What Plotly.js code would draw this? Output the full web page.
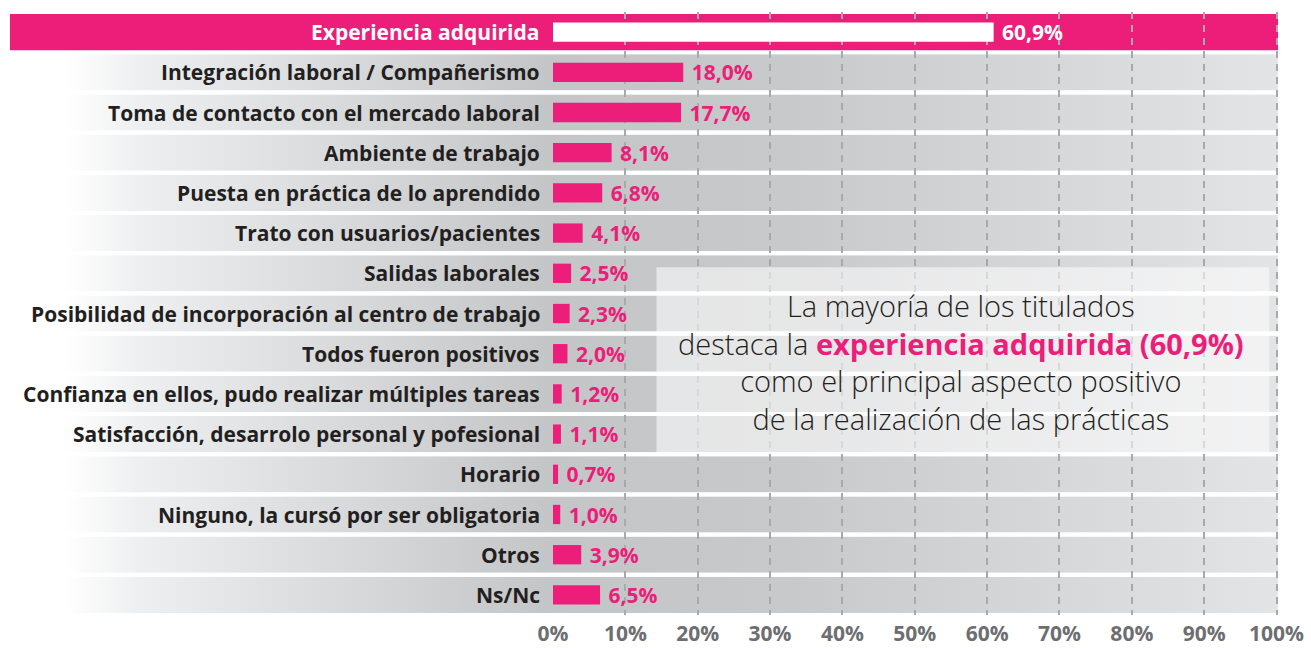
<!DOCTYPE html>
<html>
<head>
<meta charset="utf-8">
<script src="https://cdn.plot.ly/plotly-3.0.1.min.js"></script>
<style>html,body{margin:0;padding:0;background:#fff;}#chart{width:1311px;height:648px;}</style>
</head>
<body>
<div id="chart"></div>
<script>
const categories = [
  "Experiencia adquirida",
  "Integración laboral / Compañerismo",
  "Toma de contacto con el mercado laboral",
  "Ambiente de trabajo",
  "Puesta en práctica de lo aprendido",
  "Trato con usuarios/pacientes",
  "Salidas laborales",
  "Posibilidad de incorporación al centro de trabajo",
  "Todos fueron positivos",
  "Confianza en ellos, pudo realizar múltiples tareas",
  "Satisfacción, desarrolo personal y pofesional",
  "Horario",
  "Ninguno, la cursó por ser obligatoria",
  "Otros",
  "Ns/Nc"
];
const values = [60.9, 18.0, 17.7, 8.1, 6.8, 4.1, 2.5, 2.3, 2.0, 1.2, 1.1, 0.7, 1.0, 3.9, 6.5];
const tickValues = [0, 10, 20, 30, 40, 50, 60, 70, 80, 90, 100];
const tickLabels = ["0%", "10%", "20%", "30%", "40%", "50%", "60%", "70%", "80%", "90%", "100%"];
const highlightIndex = 0;
const noteLines = [
  "La mayoría de los titulados",
  "destaca la <b><span style='color:#ec1e79'>experiencia adquirida (60,9%)</span></b>",
  "como el principal aspecto positivo",
  "de la realización de las prácticas"
];

const PINK = "#ec1e79";
const DARK = "#231f20";
const FONT = "'Open Sans', sans-serif";
const idx = categories.map((c, i) => i);

const gradSvg = "<svg xmlns='http://www.w3.org/2000/svg' width='1000' height='10' viewBox='0 0 1000 10' preserveAspectRatio='none'>" +
  "<defs><linearGradient id='g' x1='0' y1='0' x2='1' y2='0'>" +
  "<stop offset='0' stop-color='#ffffff'/>" +
  "<stop offset='0.06' stop-color='#eeeff0'/>" +
  "<stop offset='0.2' stop-color='#dcdddf'/>" +
  "<stop offset='0.4' stop-color='#c4c5c7'/>" +
  "<stop offset='0.6' stop-color='#c8c9cb'/>" +
  "<stop offset='1' stop-color='#e3e4e6'/>" +
  "</linearGradient></defs><rect x='0' y='0' width='1000' height='10' fill='url(#g)'/></svg>";
const gradUri = "data:image/svg+xml;charset=utf-8," + encodeURIComponent(gradSvg);

const images = [];
const shapes = [];
idx.forEach(i => {
  if (i === highlightIndex) {
    shapes.push({type: "rect", layer: "below", xref: "paper", yref: "y",
      x0: -0.749, x1: 1.0, y0: i - 0.45, y1: i + 0.45,
      fillcolor: PINK, line: {width: 0}});
  } else {
    images.push({source: gradUri, xref: "paper", yref: "y",
      x: -0.673, y: i, sizex: 1.673, sizey: 0.9,
      xanchor: "left", yanchor: "middle", sizing: "stretch", layer: "below"});
  }
});
shapes.push({type: "rect", layer: "above", xref: "x", yref: "y",
  x0: 14.3, x1: 99.0, y0: 5.85, y1: 10.45,
  fillcolor: "rgba(255,255,255,0.55)", line: {width: 0}});

const annotations = categories.map((c, i) => ({
  x: 0, y: i, xref: "x", yref: "y", text: c, showarrow: false,
  xanchor: "right", yanchor: "middle", xshift: -11,
  font: {family: FONT, size: 21, weight: 700, color: i === highlightIndex ? "#ffffff" : DARK}
}));
annotations.push({
  x: 56.4, y: 8.2, xref: "x", yref: "y", text: noteLines.join("<br>"), showarrow: false,
  xanchor: "center", yanchor: "middle", align: "center",
  font: {family: FONT, size: 29, weight: 300, color: DARK}
});

const trace = {
  type: "bar", orientation: "h",
  x: values, y: idx,
  width: 0.48,
  marker: {color: idx.map(i => i === highlightIndex ? "#ffffff" : PINK), line: {width: 0}},
  text: values.map(v => "\u00a0" + v.toFixed(1).replace(".", ",") + "%"),
  textposition: "outside",
  constraintext: "none",
  cliponaxis: false,
  textfont: {family: FONT, size: 21, weight: 700, color: idx.map(i => i === highlightIndex ? "#ffffff" : PINK)},
  hoverinfo: "skip"
};

const layout = {
  width: 1311, height: 648,
  margin: {l: 553, r: 33, t: 12, b: 33},
  paper_bgcolor: "#ffffff", plot_bgcolor: "rgba(0,0,0,0)",
  showlegend: false,
  separators: ",.",
  xaxis: {
    range: [0, 100.2], tickvals: tickValues, ticktext: tickLabels,
    showgrid: true, gridcolor: "#a7a9ac", gridwidth: 2, griddash: "7px,6px",
    zeroline: false, showline: false, ticks: "",
    ticklabelstandoff: 4,
    tickfont: {family: FONT, size: 21, weight: 700, color: "#6d6e71"},
    fixedrange: true
  },
  yaxis: {
    range: [14.5, -0.5], showgrid: false, zeroline: false, showticklabels: false, ticks: "", fixedrange: true
  },
  shapes: shapes, images: images, annotations: annotations
};

Plotly.newPlot("chart", [trace], layout, {displayModeBar: false, staticPlot: true});
</script>
</body>
</html>
